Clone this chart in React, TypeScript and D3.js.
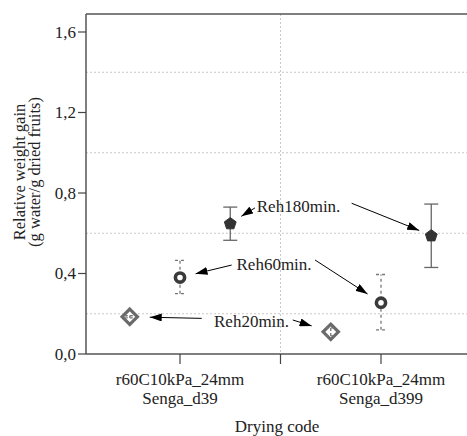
import React from "react";
import * as d3 from "d3";

const categoryLine1 = ["r60C10kPa_24mm", "r60C10kPa_24mm"];
const categoryLine2 = ["Senga_d39", "Senga_d399"];
const seriesNames = ["Reh20min.", "Reh60min.", "Reh180min."];
const seriesOffsets = [-0.25, 0, 0.25];
const reh20Mean = [0.185, 0.11];
const reh20Low = [0.18, 0.09];
const reh20High = [0.19, 0.13];
const reh60Mean = [0.38, 0.255];
const reh60Low = [0.3, 0.12];
const reh60High = [0.465, 0.395];
const reh180Mean = [0.65, 0.59];
const reh180Low = [0.565, 0.43];
const reh180High = [0.73, 0.745];
const yTicks = [0, 0.4, 0.8, 1.2, 1.6];
const yGrid = [0.2, 0.6, 1.0, 1.4];
const yTickLabels = ["0,0", "0,4", "0,8", "1,2", "1,6"];
// annotation label centres (category units, value units)
const labelX = [0.356, 0.468, 0.59];
const labelY = [0.164, 0.447, 0.735];
// arrow start points per series, per category (category units / values)
const arrowStartX = [[0.108, 0.561], [0.257, 0.672], [0.373, 0.854]];
const arrowStartY = [[0.177, 0.169], [0.442, 0.467], [0.726, 0.749]];
const arrowGap = [20, 16, 13];

const means = [reh20Mean, reh60Mean, reh180Mean];
const lows = [reh20Low, reh60Low, reh180Low];
const highs = [reh20High, reh60High, reh180High];

const W = 467, H = 436;
const FONT = "Liberation Serif, Times New Roman, DejaVu Serif, serif";

export default function App() {
  const left = 86, top = 14, bottom = 354;
  const x = d3.scaleLinear().domain([0, 1]).range([180, 381]);
  const y = d3.scaleLinear().domain([0, 1.6]).range([bottom, 32]);
  const right = x(1.468);

  const diamond = d3.symbol().type(d3.symbolDiamond2).size(150)();
  const pentagonPath = () => {
    const r = 6.2;
    const pts = d3.range(5).map((k) => {
      const a = -Math.PI / 2 + (k * 2 * Math.PI) / 5;
      return [r * Math.cos(a), r * Math.sin(a) + 0.6];
    });
    return "M" + pts.map((p) => p.join(",")).join("L") + "Z";
  };

  const errStyles = [
    { stroke: "#777", dash: "3,2", cap: 5 },
    { stroke: "#777", dash: "3,3", cap: 5 },
    { stroke: "#666", dash: undefined, cap: 7 },
  ];

  return (
    <svg width={W} height={H} style={{ position: "absolute", left: 0, top: 0, background: "#fff", fontFamily: FONT }}>
      {/* grid */}
      {yGrid.map((g) => (
        <line key={"g" + g} x1={left} x2={right} y1={y(g)} y2={y(g)} stroke="#c8c8c8" strokeWidth={1} strokeDasharray="2,2" />
      ))}
      <line x1={x(0.5)} x2={x(0.5)} y1={top} y2={bottom} stroke="#c8c8c8" strokeWidth={1} strokeDasharray="2,2" />
      {/* frame */}
      <line x1={left} x2={right} y1={top} y2={top} stroke="#555" strokeWidth={1.5} />
      <line x1={left} x2={left} y1={top} y2={bottom} stroke="#555" strokeWidth={1.5} />
      <line x1={left} x2={right} y1={bottom} y2={bottom} stroke="#555" strokeWidth={1.5} />
      {/* y ticks */}
      {yTicks.map((t, i) => (
        <g key={"yt" + t}>
          <line x1={left - 8} x2={left} y1={y(t)} y2={y(t)} stroke="#444" strokeWidth={1.2} />
          <text x={left - 10} y={y(t)} dy="0.35em" textAnchor="end" fontSize={17} fill="#222">{yTickLabels[i]}</text>
        </g>
      ))}
      {/* x ticks */}
      {[0, 0.5, 1].map((t) => (
        <line key={"xt" + t} x1={x(t)} x2={x(t)} y1={bottom} y2={bottom + 10} stroke="#444" strokeWidth={1.2} />
      ))}
      {categoryLine1.map((c, i) => (
        <g key={"xl" + i}>
          <text x={x(i)} y={385} textAnchor="middle" fontSize={17} fill="#222">{c}</text>
          <text x={x(i)} y={404} textAnchor="middle" fontSize={17} fill="#222">{categoryLine2[i]}</text>
        </g>
      ))}
      <text x={277} y={432} textAnchor="middle" fontSize={17} fill="#222">Drying code</text>
      <g transform={`translate(0, 172) rotate(-90)`}>
        <text x={0} y={25} textAnchor="middle" fontSize={16.5} fill="#222">Relative weight gain</text>
        <text x={0} y={40} textAnchor="middle" fontSize={16.5} fill="#222">(g water/g dried fruits)</text>
      </g>
      {/* error bars + markers */}
      {means.map((m, s) =>
        m.map((v, c) => {
          const cx = x(c + seriesOffsets[s]);
          const st = errStyles[s];
          const eb = (
            <g key={"eb"}>
              <line x1={cx} x2={cx} y1={y(lows[s][c])} y2={y(highs[s][c])} stroke={st.stroke} strokeWidth={1.3} strokeDasharray={st.dash} />
              <line x1={cx - st.cap} x2={cx + st.cap} y1={y(lows[s][c])} y2={y(lows[s][c])} stroke={st.stroke} strokeWidth={1.3} strokeDasharray={st.dash} />
              <line x1={cx - st.cap} x2={cx + st.cap} y1={y(highs[s][c])} y2={y(highs[s][c])} stroke={st.stroke} strokeWidth={1.3} strokeDasharray={st.dash} />
            </g>
          );
          let marker;
          if (s === 0) {
            marker = <path d={diamond} transform={`translate(${cx},${y(v)})`} fill="#fff" stroke="#6a6a6a" strokeWidth={3.2} />;
          } else if (s === 1) {
            marker = <circle cx={cx} cy={y(v)} r={4.6} fill="#fff" stroke="#3a3a3a" strokeWidth={3.6} />;
          } else {
            marker = <path d={pentagonPath()} transform={`translate(${cx},${y(v)})`} fill="#333" stroke="#333" strokeWidth={1} />;
          }
          return (
            <g key={"m" + s + "-" + c}>
              {s === 0 ? (<>{marker}{eb}</>) : (<>{eb}{marker}</>)}
            </g>
          );
        })
      )}
      {/* annotations */}
      <defs>
        <marker id="ah" viewBox="0 0 12 8" refX={12} refY={4} markerWidth={12} markerHeight={8} markerUnits="userSpaceOnUse" orient="auto">
          <path d="M0,0L12,4L0,8Z" fill="#000" />
        </marker>
      </defs>
      {seriesNames.map((name, s) => (
        <g key={"ann" + s}>
          <text x={x(labelX[s])} y={y(labelY[s])} dy="0.35em" textAnchor="middle" fontSize={17} fill="#222">{name}</text>
          {[0, 1].map((c) => {
            const sx = x(arrowStartX[s][c]);
            const sy = y(arrowStartY[s][c]);
            const tx = x(c + seriesOffsets[s]);
            const ty = y(means[s][c]);
            const dx = tx - sx, dy = ty - sy;
            const len = Math.hypot(dx, dy);
            const ex = tx - (dx / len) * arrowGap[s];
            const ey = ty - (dy / len) * arrowGap[s];
            return <line key={c} x1={sx} y1={sy} x2={ex} y2={ey} stroke="#000" strokeWidth={1} markerEnd="url(#ah)" />;
          })}
        </g>
      ))}
    </svg>
  );
}
